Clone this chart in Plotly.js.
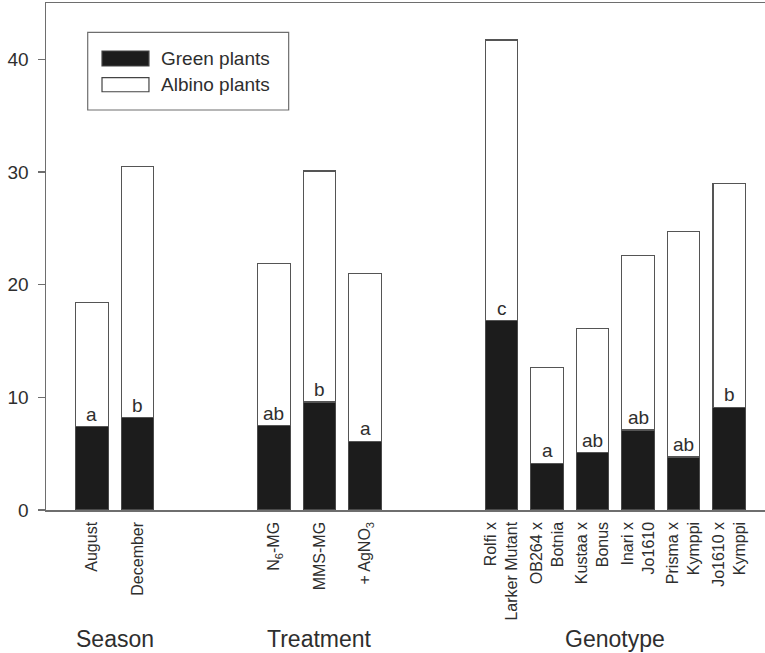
<!DOCTYPE html>
<html>
<head>
<meta charset="utf-8">
<script src="https://cdn.plot.ly/plotly-3.0.1.min.js"></script>
<style>html,body{margin:0;padding:0;background:#fff;}#chart{width:765px;height:653px;}</style>
</head>
<body>
<div id="chart"></div>
<script>
// ---- data ----
const groupNames = ["Season", "Treatment", "Genotype"];
const groupSizes = [2, 3, 6];
const categories = [
  "August", "December",
  "N<sub>6</sub>-MG", "MMS-MG", "+ AgNO<sub>3</sub>",
  "Rolfi x<br>Larker Mutant", "OB264 x<br>Botnia", "Kustaa x<br>Bonus",
  "Inari x<br>Jo1610", "Prisma x<br>Kymppi", "Jo1610 x<br>Kymppi"
];
const greenPlants  = [7.4, 8.2, 7.5, 9.6, 6.1, 16.8, 4.15, 5.1, 7.1, 4.7, 9.1];
const albinoPlants = [11.0, 22.3, 14.4, 20.5, 14.9, 24.9, 8.5, 11.0, 15.5, 20.0, 19.9];
const letters = ["a", "b", "ab", "b", "a", "c", "a", "ab", "ab", "ab", "b"];
const yTicks = [0, 10, 20, 30, 40];

// ---- layout helpers: slot positions with a 2-slot gap between groups ----
const GAP = 2;
const xPos = [];
const groupCenters = [];
let k = 0;
groupSizes.forEach((n, g) => {
  const start = k + GAP * g;
  const pts = [];
  for (let i = 0; i < n; i++) { xPos.push(start + i); pts.push(start + i); }
  groupCenters.push((pts[0] + pts[pts.length - 1]) / 2);
  k += n;
});

const FONT = "Liberation Sans, Arial, Helvetica, sans-serif";
const TXT = "#2e2e2e";
const LINE = "#6e6e6e";

const traces = [
  {
    type: "bar", name: "Green plants", x: xPos, y: greenPlants,
    width: 0.714,
    marker: {color: "#1c1c1c", line: {color: "#4a4a4a", width: 1.2}},
    hoverinfo: "skip"
  },
  {
    type: "bar", name: "Albino plants", x: xPos, y: albinoPlants,
    width: 0.714,
    marker: {color: "#ffffff", line: {color: "#555555", width: 1.4}},
    hoverinfo: "skip"
  }
];

const annotations = [];
letters.forEach((t, i) => {
  annotations.push({
    x: xPos[i], y: greenPlants[i], xref: "x", yref: "y",
    text: t, showarrow: false, yanchor: "bottom", xanchor: "center",
    font: {family: FONT, size: 19, color: TXT}
  });
});
groupNames.forEach((g, i) => {
  annotations.push({
    x: groupCenters[i], y: -0.2544, xref: "x", yref: "paper",
    text: g, showarrow: false, yanchor: "middle", xanchor: "center",
    font: {family: FONT, size: 23, color: TXT}
  });
});
// custom legend
const legendItems = [
  {label: "Green plants", fill: "#1c1c1c", y0: 0.8757, y1: 0.9053, ty: 0.8905},
  {label: "Albino plants", fill: "#ffffff", y0: 0.8250, y1: 0.8527, ty: 0.8389}
];
const shapes = [
  {type: "rect", xref: "paper", yref: "paper", x0: 0.058, x1: 0.3375, y0: 0.789, y1: 0.9422,
   line: {color: LINE, width: 1.2}, fillcolor: "rgba(0,0,0,0)"}
];
legendItems.forEach(it => {
  shapes.push({type: "rect", xref: "paper", yref: "paper", x0: 0.0779, x1: 0.1432, y0: it.y0, y1: it.y1,
    line: {color: "#444444", width: 1.2}, fillcolor: it.fill});
  annotations.push({x: 0.1566, y: it.ty, xref: "paper", yref: "paper", text: it.label, showarrow: false,
    xanchor: "left", yanchor: "middle", font: {family: FONT, size: 19, color: TXT}});
});

const layout = {
  width: 765, height: 653,
  margin: {l: 46, r: 0, t: 3, b: 143, pad: 0},
  paper_bgcolor: "#ffffff", plot_bgcolor: "#ffffff",
  barmode: "stack",
  showlegend: false,
  font: {family: FONT, color: TXT},
  xaxis: {
    range: [-1.01, 14.79], tickmode: "array", tickvals: xPos, ticktext: categories,
    tickangle: -90, ticks: "", ticklabelstandoff: 4, showgrid: false, zeroline: false,
    showline: true, linecolor: LINE, linewidth: 1.5, mirror: true,
    tickfont: {family: FONT, size: 16, color: TXT}, fixedrange: true
  },
  yaxis: {
    range: [0, 45], tickmode: "array", tickvals: yTicks,
    ticks: "outside", ticklen: 7, tickcolor: LINE, tickwidth: 1.2, ticklabelstandoff: 5,
    showgrid: false, zeroline: false, showline: true, linecolor: LINE, linewidth: 1.5, mirror: false,
    tickfont: {family: FONT, size: 19, color: TXT}, fixedrange: true
  },
  shapes: shapes,
  annotations: annotations
};

Plotly.newPlot("chart", traces, layout, {displayModeBar: false, staticPlot: true});
</script>
</body>
</html>
